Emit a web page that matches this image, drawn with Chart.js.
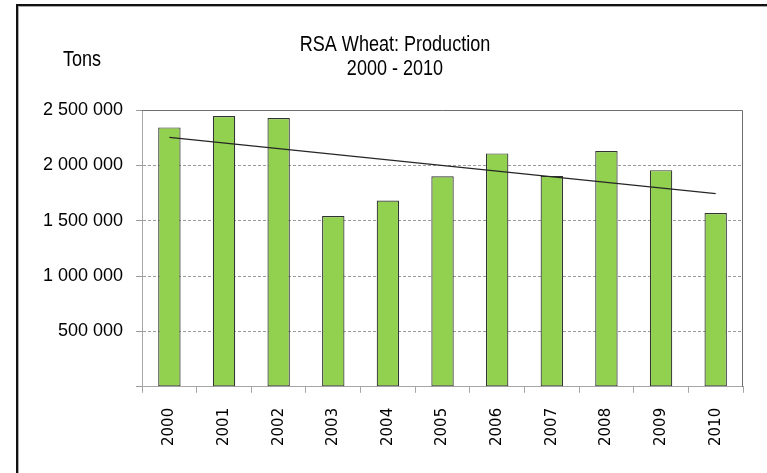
<!DOCTYPE html>
<html>
<head>
<meta charset="utf-8">
<title>RSA Wheat: Production 2000 - 2010</title>
<script src="https://cdn.jsdelivr.net/npm/chart.js@4.4.1/dist/chart.umd.min.js"></script>
<style>
  body { margin: 0; background: #fff; }
  #wrap { position: relative; width: 767px; height: 473px; overflow: hidden; background: #fff; }
  #frame {
    position: absolute; left: 16px; top: 4px; width: 800px; height: 520px;
    border-left: 2px solid #111; border-top: 2px solid #111;
    box-shadow: inset 1px 1px 0 #aaa;
    pointer-events: none;
  }
</style>
</head>
<body>
<div id="wrap">
  <canvas id="wheatChart"></canvas>
  <div id="frame"></div>
</div>
<script>
// values (tons)
var years = ['2000', '2001', '2002', '2003', '2004', '2005', '2006', '2007', '2008', '2009', '2010'];
var production = [2343000, 2446000, 2428000, 1543000, 1682000, 1902000, 2108000, 1905000, 2129000, 1957000, 1570000];
// linear trend, only the two ends are drawn
var trend = [2253000, null, null, null, null, null, null, null, null, null, 1744000];
var yTickLabels = ['', '500 000', '1 000 000', '1 500 000', '2 000 000', '2 500 000'];
var titleLines = ['RSA Wheat: Production', '2000 - 2010'];
var unitLabel = 'Tons';

// the original uses a tall, narrow face: squeeze Liberation Sans sideways
function narrowText(ctx, text, x, y, align) {
  ctx.save();
  ctx.font = '22px "Liberation Sans", sans-serif';
  ctx.fillStyle = '#000';
  ctx.textAlign = align;
  ctx.textBaseline = 'alphabetic';
  ctx.translate(x, y);
  ctx.scale(0.82, 1);
  ctx.fillText(text, 0, 0);
  ctx.restore();
}

// top + right edge of the plot area, titles
var plotFrame = {
  id: 'plotFrame',
  beforeDatasetsDraw: function (chart) {
    var a = chart.chartArea, ctx = chart.ctx;
    ctx.save();
    ctx.strokeStyle = '#6e6e6e';
    ctx.lineWidth = 1;
    ctx.beginPath();
    ctx.moveTo(a.left, a.top + 0.5);
    ctx.lineTo(a.right - 0.5, a.top + 0.5);
    ctx.lineTo(a.right - 0.5, a.bottom);
    ctx.stroke();
    ctx.restore();
  },
  afterDraw: function (chart) {
    var ctx = chart.ctx;
    narrowText(ctx, titleLines[0], 395, 51, 'center');
    narrowText(ctx, titleLines[1], 395, 75, 'center');
    narrowText(ctx, unitLabel, 63, 66, 'left');
  }
};

var ctx = document.getElementById('wheatChart').getContext('2d');
var wheatChart = new Chart(ctx, {
  type: 'bar',
  data: {
    labels: years,
    datasets: [{
      type: 'line',
      label: 'Trend',
      data: trend,
      spanGaps: true,
      borderColor: '#262626',
      borderWidth: 1.3,
      pointRadius: 0,
      fill: false,
      order: 0
    }, {
      label: 'Production',
      data: production,
      backgroundColor: '#92d050',
      borderColor: '#333333',
      borderWidth: 1.2,
      borderSkipped: false,
      categoryPercentage: 1,
      barPercentage: 0.41,
      order: 1
    }]
  },
  options: {
    responsive: true,
    maintainAspectRatio: false,
    animation: false,
    layout: { padding: { left: 30, right: 24, top: 110, bottom: 12 } },
    plugins: {
      legend: { display: false },
      tooltip: { enabled: false },
      title: { display: false }
    },
    scales: {
      x: {
        grid: { offset: true, drawOnChartArea: false, color: '#a6a6a6', tickLength: 6 },
        border: { color: '#a6a6a6' },
        ticks: {
          autoSkip: false, maxRotation: 90, minRotation: 90, padding: 15,
          color: '#000', font: { family: 'DejaVu Sans', size: 15 }
        }
      },
      y: {
        min: 0,
        max: 2500000,
        grid: {
          color: function (c) { return (c.tick && c.tick.value === 0) ? 'rgba(0,0,0,0)' : '#9a9a9a'; },
          tickColor: '#9a9a9a',
          tickLength: 6
        },
        border: { color: '#a6a6a6', dash: [3, 2] },
        ticks: {
          stepSize: 500000, padding: 13, color: '#000',
          font: { family: 'Liberation Sans', size: 18 },
          callback: function (v, i) { return yTickLabels[i]; }
        }
      }
    }
  },
  plugins: [plotFrame]
});
</script>
</body>
</html>
